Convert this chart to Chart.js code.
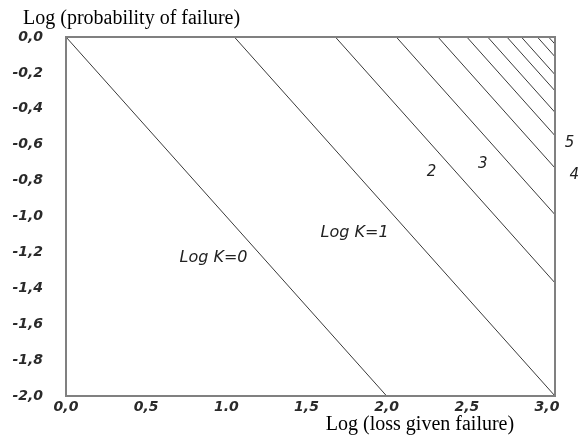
<!DOCTYPE html>
<html>
<head>
<meta charset="utf-8">
<script src="https://cdn.jsdelivr.net/npm/chart.js@4.4.1/dist/chart.umd.min.js"></script>
<style>
  html, body { margin: 0; padding: 0; background: #fff; }
  #wrap { width: 578px; height: 442px; position: relative; }
</style>
</head>
<body>
<div id="wrap"><canvas id="c" width="578" height="442"></canvas></div>
<script>
// ---- data ----
// x where each iso-risk line crosses log P = 0 (lines have slope -1)
const lineIntercepts = [0, 1.05, 1.68, 2.06, 2.32, 2.50, 2.63, 2.75, 2.84, 2.94, 3.01, 3.04];
const xTickValues = [0, 0.5, 1.0, 1.5, 2.0, 2.5, 3.0];
const xTickLabels = ['0,0', '0,5', '1.0', '1,5', '2,0', '2,5', '3,0'];
const yTickValues = [-2.0, -1.8, -1.6, -1.4, -1.2, -1.0, -0.8, -0.6, -0.4, -0.2, 0.0];
const yTickLabels = ['-2,0', '-1,8', '-1,6', '-1,4', '-1,2', '-1,0', '-0,8', '-0,6', '-0,4', '-0,2', '0,0'];
const lineLabelTexts = ['Log K=0', 'Log K=1', '2', '3', '4', '5'];
const lineLabelX = [0.92, 1.80, 2.28, 2.60, 3.17, 3.14];
const lineLabelY = [-1.23, -1.09, -0.75, -0.71, -0.77, -0.59];
const xRange = [0, 3.05];
const yRange = [-2, 0];
const xTitle = 'Log (loss given failure)';
const yTitle = 'Log (probability of failure)';

const datasets = lineIntercepts.map(a => ({
  data: [{ x: a, y: 0 }, { x: a + 2, y: -2 }],
  borderColor: '#3a3a3a',
  borderWidth: 1,
  pointRadius: 0,
  fill: false,
  tension: 0
}));

const tickFont = { family: 'DejaVu Sans', size: 14, style: 'italic', weight: 'bold' };

const overlay = {
  id: 'overlay',
  afterDatasetsDraw(chart) {
    const { ctx, chartArea: a, scales } = chart;
    ctx.save();
    ctx.strokeStyle = '#808080';
    ctx.lineWidth = 2;
    ctx.strokeRect(a.left, a.top, a.right - a.left, a.bottom - a.top);
    ctx.fillStyle = '#222';
    ctx.textAlign = 'center';
    ctx.textBaseline = 'middle';
    lineLabelTexts.forEach((t, i) => {
      ctx.font = 'italic ' + (t.length > 1 ? 16 : 15) + 'px "DejaVu Sans"';
      ctx.fillText(t, scales.x.getPixelForValue(lineLabelX[i]), scales.y.getPixelForValue(lineLabelY[i]));
    });
    ctx.fillStyle = '#000';
    ctx.font = '20px "Liberation Serif"';
    ctx.textAlign = 'left';
    ctx.fillText(yTitle, 23, 19);
    ctx.textAlign = 'center';
    ctx.fillText(xTitle, 420, 425);
    ctx.restore();
  }
};

new Chart(document.getElementById('c'), {
  type: 'line',
  data: { datasets },
  options: {
    responsive: false,
    animation: false,
    layout: { padding: { top: 37, right: 23, left: 0, bottom: 0 } },
    plugins: { legend: { display: false }, tooltip: { enabled: false }, title: { display: false } },
    scales: {
      x: {
        type: 'linear',
        min: xRange[0], max: xRange[1],
        grid: { display: false, drawTicks: false },
        border: { display: false },
        afterBuildTicks: s => { s.ticks = xTickValues.map(v => ({ value: v })); },
        afterFit: s => { s.height = 46; },
        ticks: {
          padding: 3,
          color: '#2a2a2a',
          font: tickFont,
          maxRotation: 0,
          autoSkip: false,
          callback: (v, i) => xTickLabels[i]
        }
      },
      y: {
        type: 'linear',
        min: yRange[0], max: yRange[1],
        grid: { display: false, drawTicks: false },
        border: { display: false },
        afterBuildTicks: s => { s.ticks = yTickValues.map(v => ({ value: v })); },
        afterFit: s => { s.width = 66; },
        ticks: {
          padding: 23,
          color: '#2a2a2a',
          font: tickFont,
          autoSkip: false,
          callback: (v, i) => yTickLabels[i]
        }
      }
    }
  },
  plugins: [overlay]
});
</script>
</body>
</html>
